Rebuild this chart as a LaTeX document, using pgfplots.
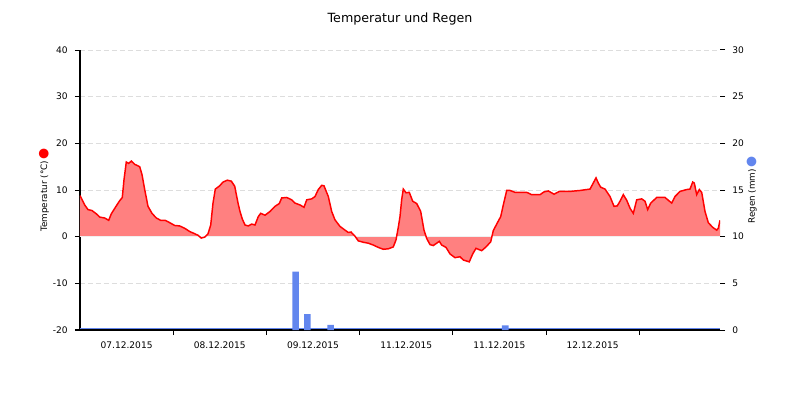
\documentclass[border=0pt]{standalone}
\usepackage{fontspec}
\setmainfont{DejaVu Sans}
\usepackage{pgfplots}
\usepackage{pgfplotstable}
\pgfplotsset{compat=1.18}

\definecolor{tempfill}{RGB}{255,128,128}
\definecolor{templine}{RGB}{255,0,0}
\definecolor{rainblue}{RGB}{98,134,238}
\definecolor{gridgray}{RGB}{221,221,221}

\newcommand{\tickfont}{\fontsize{6.8}{8}\selectfont}

% hours since start of 06.12.2015 (approx), temperature in degC
\pgfplotstableread{
h T
0 8.8
1.21 6.8
2.06 5.8
3.09 5.6
4.20 4.9
5.07 4.2
6.36 4.0
7.39 3.5
8.06 4.9
9.35 6.6
10.22 7.7
10.89 8.4
11.33 12.2
11.92 16.0
12.54 15.7
13.21 16.2
14.09 15.5
15.37 15.0
15.97 13.3
16.66 10.1
17.51 6.5
18.54 5.0
19.65 4.0
20.78 3.5
21.96 3.5
23.10 3.0
24.39 2.4
25.67 2.3
26.96 1.8
28.25 1.1
29.36 0.7
30.39 0.3
31.23 -0.3
32.11 -0.1
32.96 0.6
33.66 2.5
34.25 7.2
34.84 10.2
35.97 10.9
36.82 11.7
37.93 12.1
38.96 11.9
39.84 10.8
40.69 7.2
41.20 5.4
41.79 3.8
42.49 2.5
43.34 2.3
44.21 2.7
45.06 2.5
45.91 4.3
46.53 5.0
47.64 4.6
48.93 5.4
50.21 6.5
51.32 7.1
51.94 8.3
53.23 8.4
54.51 7.9
55.36 7.2
56.65 6.8
57.68 6.3
58.38 7.9
59.66 8.1
60.51 8.6
61.36 10.1
62.24 11.0
62.83 10.9
63.94 8.6
64.81 5.4
65.66 3.6
66.95 2.2
68.24 1.4
69.09 0.9
69.78 1.0
70.81 0.1
71.66 -0.9
72.95 -1.2
74.24 -1.4
75.52 -1.8
76.81 -2.3
78.10 -2.7
79.39 -2.6
80.67 -2.2
81.37 -0.7
81.96 2.0
82.40 4.3
82.84 8.0
83.25 10.2
83.95 9.4
84.79 9.5
85.67 7.6
86.70 7.1
87.73 5.4
88.58 1.4
89.28 -0.4
90.13 -1.7
90.97 -1.9
91.85 -1.4
92.52 -1.0
93.14 -1.8
94.25 -2.3
95.28 -3.7
96.56 -4.5
97.85 -4.3
98.70 -5.0
100.24 -5.4
101.12 -3.7
101.97 -2.5
103.44 -3.0
104.55 -2.2
105.76 -1.1
106.42 1.3
107.30 2.7
108.33 4.3
109.00 6.8
109.88 9.9
110.73 9.9
112.01 9.5
113.74 9.5
115.03 9.5
116.31 9.0
118.45 9.0
119.48 9.6
120.59 9.8
122.06 9.1
123.42 9.7
124.71 9.7
126.18 9.7
128.75 9.9
131.33 10.2
132.17 11.5
132.87 12.6
133.46 11.5
134.08 10.6
135.19 10.2
136.48 8.6
137.51 6.5
138.35 6.6
139.05 7.6
139.90 9.0
140.78 7.8
141.63 6.1
142.48 5.0
143.35 7.9
144.64 8.1
145.49 7.6
146.18 5.8
146.96 7.2
148.50 8.4
150.64 8.4
152.36 7.2
153.21 8.6
154.50 9.7
156.22 10.1
157.08 10.2
157.77 11.7
158.18 11.5
158.80 9.0
159.47 10.1
160.09 9.5
160.94 5.4
161.79 3.0
162.92 2.0
163.95 1.4
164.37 1.8
164.80 3.5
}\temptable

\begin{document}
\begin{tikzpicture}
\useasboundingbox (-60pt,-52.5pt) rectangle (540pt,247.5pt);

% temperature (left axis)
\begin{axis}[
    at={(0,0)}, anchor=south west,
    scale only axis, width=480pt, height=210pt,
    xmin=0, xmax=164.8,
    ymin=-20, ymax=40,
    axis x line*=bottom, axis y line*=left,
    axis line style={-},
    x axis line style={line width=1.5pt},
    y axis line style={line width=1.1pt},
    tick align=outside,
    major tick length=3.75pt,
    tick style={black, line width=0.75pt},
    xtick={24,48,72,96,120,144},
    xticklabels={},
    extra x ticks={12,36,60,84,108,132},
    extra x tick labels={07.12.2015,08.12.2015,09.12.2015,11.12.2015,11.12.2015,12.12.2015},
    extra x tick style={tick style={draw=none}},
    x tick label style={font=\tickfont, yshift=-1.5pt},
    ytick={-20,-10,0,10,20,30,40},
    yticklabels={-20,-10,0,10,20,30,40},
    y tick label style={font=\tickfont, xshift=-2pt},
    ymajorgrids,
    major grid style={draw=gridgray, line width=0.75pt, dash pattern=on 3.75pt off 2.25pt},
    ylabel={Temperatur (°C)\,{\fontsize{9.5}{10}\selectfont\textcolor{templine}{●}}},
    every axis y label/.style={at={(axis description cs:-0.05625,0.5)}, rotate=90, anchor=center, font=\fontsize{6.6}{8}\selectfont},
    title={Temperatur und Regen},
    title style={at={(axis description cs:0.5,1.082)}, anchor=center, font=\fontsize{9.5}{11}\selectfont},
]
\addplot[fill=tempfill, draw=none] table[x=h, y=T] {\temptable} \closedcycle;
\addplot[draw=white!88!gray, line width=0.9pt] coordinates {(0,0) (164.8,0)};
\addplot[templine, line width=1.1pt] table[x=h, y=T] {\temptable};
\end{axis}

% rain (right axis)
\begin{axis}[
    at={(0,0)}, anchor=south west,
    scale only axis, width=480pt, height=210pt,
    xmin=0, xmax=164.8,
    ymin=0, ymax=30,
    axis x line=none, axis y line*=right,
    axis line style={-},
    y axis line style={draw=none},
    tick align=outside,
    major tick length=3.75pt,
    tick style={black, line width=0.75pt},
    ytick={0,5,10,15,20,25,30},
    yticklabels={0,5,10,15,20,25,30},
    y tick label style={font=\tickfont, xshift=2pt},
    ylabel={Regen (mm)\,{\fontsize{9.5}{10}\selectfont\textcolor{rainblue}{●}}},
    every axis y label/.style={at={(axis description cs:1.0496,0.5)}, rotate=90, anchor=center, font=\fontsize{6.6}{8}\selectfont},
]
\addplot[ybar, bar width=1.7, fill=rainblue, draw=none] coordinates {
    (55.54,6.25) (58.53,1.7) (64.55,0.55) (109.5,0.5)
};
\addplot[rainblue, line width=1pt, yshift=1.2pt] coordinates {(0,0) (164.8,0)};
\end{axis}
\end{tikzpicture}
\end{document}
